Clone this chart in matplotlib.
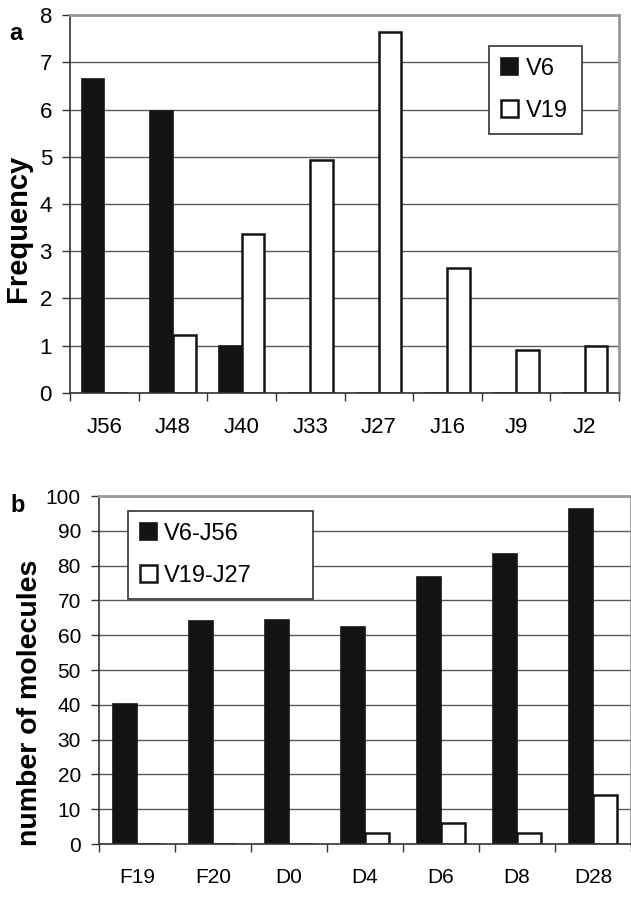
import numpy as np
import matplotlib
matplotlib.use('Agg')
import matplotlib.pyplot as plt

plt.rcParams['font.family'] = ['Liberation Sans', 'DejaVu Sans']

# panel a
genes_a = ['J56', 'J48', 'J40', 'J33', 'J27', 'J16', 'J9', 'J2']
v6 = [6.65, 5.97, 1.0, 0, 0, 0, 0, 0]
v19 = [0, 1.22, 3.37, 4.93, 7.65, 2.65, 0.9, 1.0]

# panel b
days_b = ['F19', 'F20', 'D0', 'D4', 'D6', 'D8', 'D28']
v6_j56 = [40.3, 64.1, 64.5, 62.3, 76.8, 83.4, 96.3]
v19_j27 = [0, 0, 0, 3.3, 6.1, 3.2, 14.1]

W, H = 631, 899
fig = plt.figure(figsize=(W / 100, H / 100), dpi=100)
ax1 = fig.add_axes([70 / W, 1 - 393 / H, 549 / W, 378 / H])
ax2 = fig.add_axes([99 / W, 1 - 844 / H, 532 / W, 348 / H])


def draw(ax, labels, s1, s2, names, ymax, step, fs, xpad, leg_box, leg_fs, leg_sp, w):
    n = len(labels)
    x = np.arange(n)
    ax.set_axisbelow(True)
    ax.yaxis.grid(True, color='#5a5a5a', linewidth=1.0)
    ax.bar(x - w / 2, s1, w, color='#141414', edgecolor='#141414', linewidth=1.2, label=names[0])
    ax.bar(x + w / 2, s2, w, color='white', edgecolor='#141414', linewidth=1.8, label=names[1])
    ax.set_xlim(-0.5, n - 0.5)
    ax.set_ylim(0, ymax)
    ax.set_yticks(np.arange(0, ymax + step / 2, step))
    ax.set_xticks(x)
    ax.set_xticklabels(labels)
    ax.set_xticks(np.arange(n + 1) - 0.5, minor=True)
    ax.tick_params(axis='x', which='major', length=0, pad=xpad, labelsize=fs)
    ax.tick_params(axis='x', which='minor', length=6, width=1, direction='out', color='#333333')
    ax.tick_params(axis='y', length=6, width=1, direction='out', pad=7, labelsize=fs, color='#333333')
    for s in ['left', 'bottom']:
        ax.spines[s].set_color('#333333')
        ax.spines[s].set_linewidth(1.2)
    for s in ['top', 'right']:
        ax.spines[s].set_color('#999999')
        ax.spines[s].set_linewidth(2.0)
    leg = ax.legend(loc='upper left', bbox_to_anchor=leg_box, mode='expand',
                    fontsize=leg_fs, frameon=True,
                    fancybox=False, edgecolor='#333333', framealpha=1, borderaxespad=0,
                    handlelength=0.75, handleheight=0.75, handletextpad=0.3,
                    labelspacing=leg_sp, borderpad=0.5)
    leg.get_frame().set_linewidth(1.2)
    return leg


draw(ax1, genes_a, v6, v19, ['V6', 'V19'], 8, 1, 16, 17,
     (0.763, 0.908, 0.169, 0.01), 17, 0.85, 0.33)
draw(ax2, days_b, v6_j56, v19_j27, ['V6-J56', 'V19-J27'], 100, 10, 15, 17,
     (0.054, 0.947, 0.348, 0.01), 17, 0.85, 0.32)

fig.text(18.5 / W, 1 - 228 / H, 'Frequency', fontsize=21, fontweight='bold',
         rotation=90, ha='center', va='center')
fig.text(30 / W, 1 - 703 / H, 'number of molecules', fontsize=20.5, fontweight='bold',
         rotation=90, ha='center', va='center')

fig.text(16 / W, 1 - 33 / H, 'a', fontsize=17, fontweight='bold', ha='center', va='center')
fig.text(18 / W, 1 - 506 / H, 'b', fontsize=17, fontweight='bold', ha='center', va='center')

fig.savefig('out.png', dpi=100)
